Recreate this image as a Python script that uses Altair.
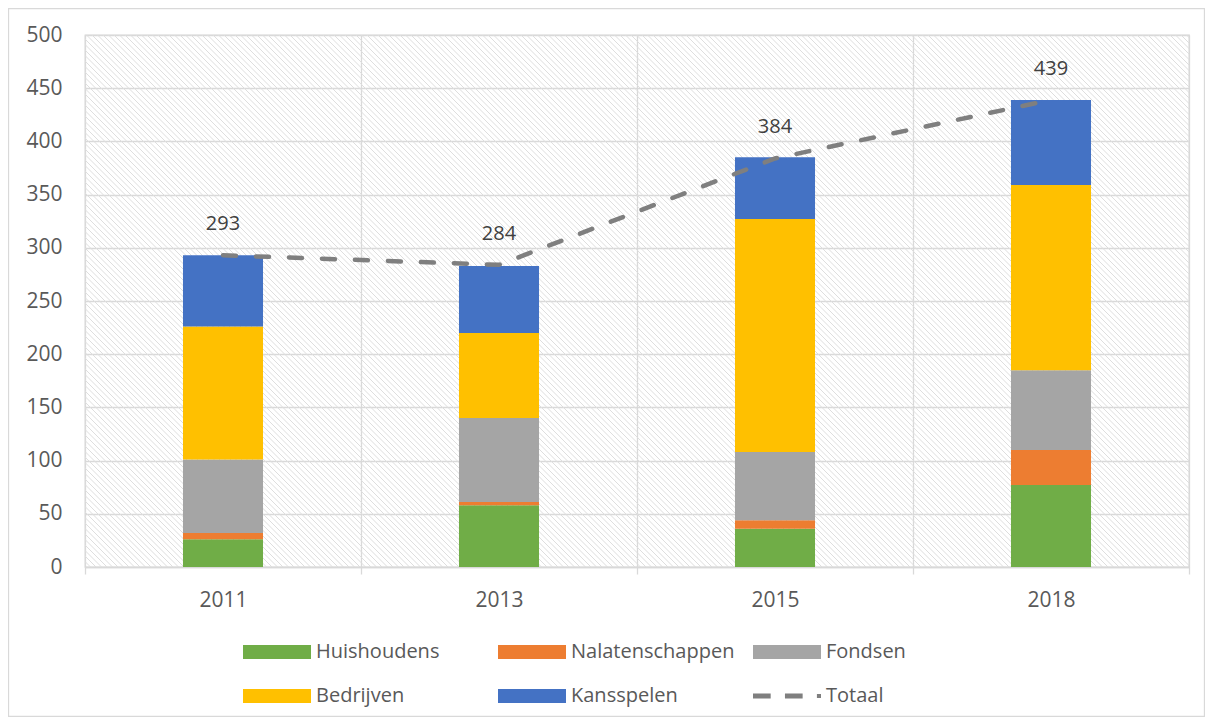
import altair as alt
import pandas as pd

# ---- data ----
years = ["2011", "2013", "2015", "2018"]
series = ["Huishoudens", "Nalatenschappen", "Fondsen", "Bedrijven", "Kansspelen"]
huishoudens = [26, 58, 36, 77]
nalatenschappen = [6, 3, 8, 33]
fondsen = [69, 79, 64, 75]
bedrijven = [125, 80, 219, 174]
kansspelen = [67, 63, 58, 80]
totaal = [293, 284, 384, 439]
colors = ["#70AD47", "#ED7D31", "#A5A5A5", "#FFC000", "#4472C4", "#7F7F7F"]
legend_labels = series + ["Totaal"]

values_by_series = [huishoudens, nalatenschappen, fondsen, bedrijven, kansspelen]
rows = []
for idx, (name, vals) in enumerate(zip(series, values_by_series)):
    for y, v in zip(years, vals):
        rows.append({"year": y, "series": name, "value": v, "idx": idx})
bars_df = pd.DataFrame(rows)
tot_df = pd.DataFrame({"year": years, "totaal": totaal})

W, H = 1104, 532
FONT = "Open Sans"
GRID = "#D9D9D9"
TXT = "#595959"

RECT_PATH = "M-1,-0.206H1V0.206H-1Z"
TOT_PATH = ("M-1,-0.074H-0.48V0.074H-1Z M-0.06,-0.074H0.46V0.074H-0.06Z "
            "M0.88,-0.06H1V0.06H0.88Z")
SHAPE_EXPR = f"datum.value === 'Totaal' ? '{TOT_PATH}' : '{RECT_PATH}'"

x_enc = alt.X(
    "year:N",
    sort=years,
    scale=alt.Scale(paddingInner=0, paddingOuter=0),
    axis=alt.Axis(
        title=None, labelAngle=0, tickBand="extent", ticks=True, tickSize=7,
        tickColor=GRID, tickWidth=1.3, grid=True, gridColor=GRID, gridWidth=1.3,
        domainColor=GRID, domainWidth=1.3, labelFont=FONT, labelFontSize=21,
        labelColor=TXT, labelPadding=15,
    ),
)

# decorative hatch of the plot area
hatch = (
    alt.Chart(alt.sequence(0, 300, as_="i"))
    .transform_calculate(x0=f"-{H} + datum.i * 5.5", x1=f"datum.i * 5.5", y0="0", y1=str(H))
    .mark_rule(clip=True, color="#DEDEDE", strokeWidth=1)
    .encode(
        x=alt.X("x0:Q", scale=None, axis=None),
        x2="x1:Q",
        y=alt.Y("y0:Q", scale=None, axis=None),
        y2="y1:Q",
    )
)

bars = (
    alt.Chart(bars_df)
    .mark_bar(width=alt.RelativeBandSize(0.29))
    .encode(
        x=x_enc,
        y=alt.Y(
            "sum(value):Q",
            stack="zero",
            scale=alt.Scale(domain=[0, 500], nice=False),
            axis=alt.Axis(
                title=None, values=list(range(0, 501, 50)), ticks=False, domain=False,
                grid=True, gridColor=GRID, gridWidth=1.3, labelFont=FONT,
                labelFontSize=21, labelColor=TXT, labelPadding=23,
            ),
        ),
        color=alt.Color(
            "series:N",
            scale=alt.Scale(domain=legend_labels, range=colors),
            legend=alt.Legend(
                title=None, orient="none", direction="horizontal",
                legendX=158, legendY=607, columns=3,
                gridAlign="all", columnPadding=18, rowPadding=24, clipHeight=20,
                symbolSize=4624, symbolStrokeWidth=0,
                symbolType=alt.ExprRef(SHAPE_EXPR),
                labelOffset=5, labelLimit=400, labelFont=FONT, labelFontSize=20,
                labelColor=TXT, padding=0,
            ),
        ),
        order=alt.Order("idx:Q", sort="ascending"),
    )
)

line = (
    alt.Chart(tot_df)
    .mark_line(color="#7F7F7F", strokeWidth=4.5, strokeDash=[13, 20], strokeCap="round")
    .encode(x=alt.X("year:N", sort=years), y=alt.Y("totaal:Q"))
)

labels = (
    alt.Chart(tot_df)
    .mark_text(dy=-25, baseline="alphabetic", font=FONT, fontSize=20, color="#404040")
    .encode(x=alt.X("year:N", sort=years), y=alt.Y("totaal:Q"), text=alt.Text("totaal:Q"))
)

frame = (
    alt.Chart(alt.Data(values=[{"a": 1}]))
    .mark_rect(fill="transparent", stroke=GRID, strokeWidth=1.3, clip=False)
    .encode(
        x=alt.value(-76.5), x2=alt.value(W + 15.5),
        y=alt.value(-26.5), y2=alt.value(H + 149.5),
    )
)

chart = (
    alt.layer(hatch, bars, line, labels, frame)
    .properties(
        width=W, height=H,
        autosize=alt.AutoSizeParams(type="none"),
        padding={"left": 77, "top": 27, "right": 16, "bottom": 150},
        background="white",
    )
    .configure_view(stroke=GRID, strokeWidth=1.3)
)

chart.save("out.html", embed_options={"renderer": "svg", "actions": False})
